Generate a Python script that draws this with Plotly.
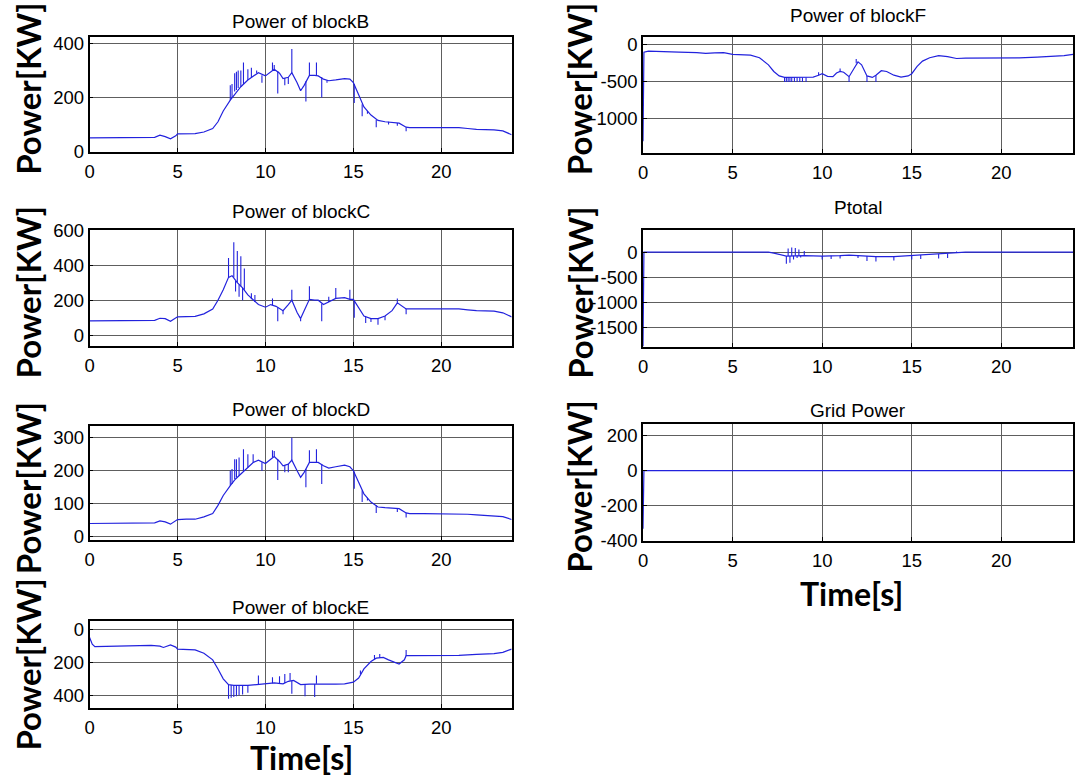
import plotly.graph_objects as go

# ---------------- DATA ----------------
x_ticks = [0, 5, 10, 15, 20]

# Power of blockB
t_B = [0, 1, 2, 3, 3.7, 4.0, 4.3, 4.6, 4.9, 5.0, 5.5, 6.0, 6.5, 7.0, 7.3, 7.6, 8.0, 8.3, 8.6, 9.0, 9.3, 9.6,
       10.0, 10.3, 10.5, 10.8, 11.0, 11.3, 11.5, 11.8, 12.0, 12.2, 12.5, 12.8, 13.0, 13.3, 13.6, 14.0, 14.5,
       14.8, 15.0, 15.3, 15.6, 16.0, 16.4, 16.8, 17.2, 17.6, 18.0, 18.2, 19, 20, 21, 21.5, 22, 23, 23.5, 24]
p_B = [50, 50, 50, 50, 52, 60, 55, 47, 58, 65, 65, 66, 72, 85, 110, 150, 190, 215, 240, 265, 280, 292,
       280, 295, 305, 290, 270, 275, 292, 255, 225, 245, 282, 282, 280, 268, 262, 265, 270,
       268, 255, 210, 165, 135, 115, 110, 108, 105, 90, 88, 88, 88, 88, 85, 82, 80, 76, 62]
spk_t_B = [8.0, 8.1, 8.25, 8.35, 8.45, 8.6, 8.75, 9.0, 9.2, 9.5, 9.8, 10.4, 10.5, 10.7, 11.1, 11.3, 11.5,
           12.3, 12.5, 12.9, 13.2, 13.5, 15.05, 15.5, 15.8, 16.3, 17.0, 17.5, 18.0]
spk_lo_B = [190, 198, 222, 228, 235, 240, 250, 265, 275, 290, 282, 300, 305, 298, 272, 275, 292,
            260, 282, 282, 276, 264, 250, 175, 150, 117, 110, 105, 90]
spk_hi_B = [245, 250, 290, 295, 300, 300, 330, 305, 310, 300, 255, 330, 320, 215, 245, 250, 380,
            185, 330, 330, 200, 255, 180, 130, 140, 90, 100, 95, 75]

# Power of blockC
t_C = [0, 1, 2, 3, 3.7, 4.0, 4.3, 4.6, 4.9, 5.0, 5.5, 6.0, 6.5, 7.0, 7.3, 7.6, 7.9, 8.1, 8.4, 8.7, 9.0, 9.3,
       9.6, 10.0, 10.3, 10.6, 11.0, 11.3, 11.5, 11.8, 12.0, 12.2, 12.5, 12.8, 13.0, 13.3, 13.6, 14.0, 14.5,
       14.8, 15.0, 15.3, 15.6, 16.0, 16.4, 16.8, 17.2, 17.5, 17.8, 18.0, 18.2, 19, 20, 21, 21.5, 22, 23, 23.5, 24]
p_C = [82, 82, 82, 82, 85, 97, 95, 80, 98, 105, 106, 108, 122, 150, 200, 260, 330, 340, 300, 270, 230, 200,
       175, 160, 175, 165, 140, 175, 200, 130, 95, 140, 205, 200, 200, 175, 190, 210, 215,
       205, 205, 160, 110, 95, 95, 110, 140, 185, 165, 150, 150, 150, 150, 150, 145, 140, 138, 128, 105]
spk_t_C = [7.9, 8.2, 8.3, 8.4, 8.5, 8.6, 8.7, 8.8, 9.2, 9.4, 10.4, 10.7, 11.0, 11.5, 12.0, 12.5, 13.2,
           13.6, 14.0, 14.8, 15.05, 15.7, 16.0, 16.4, 16.8, 17.5, 18.0]
spk_lo_C = [330, 330, 310, 300, 290, 280, 270, 260, 205, 190, 172, 160, 140, 200, 95, 205, 180,
            190, 210, 205, 200, 105, 95, 95, 110, 185, 150]
spk_hi_C = [440, 530, 250, 480, 220, 450, 200, 380, 240, 230, 210, 80, 120, 260, 80, 280, 80,
            220, 270, 260, 100, 70, 75, 60, 85, 210, 120]

# Power of blockD
t_D = t_B
p_D = [40, 40, 40, 40, 42, 48, 45, 38, 48, 52, 53, 53, 60, 70, 95, 125, 155, 175, 190, 210, 225, 232,
       222, 235, 243, 228, 215, 220, 232, 200, 180, 195, 225, 225, 225, 215, 208, 212, 217,
       212, 200, 165, 130, 105, 90, 88, 87, 85, 72, 70, 70, 70, 70, 68, 66, 64, 61, 52]
spk_t_D = [8.0, 8.1, 8.25, 8.35, 8.5, 8.75, 9.0, 9.3, 9.8, 10.4, 10.5, 10.7, 11.1, 11.3, 11.5, 12.3,
           12.5, 12.9, 13.2, 15.05, 15.5, 15.8, 16.3, 17.5, 18.0]
spk_lo_D = [155, 160, 175, 180, 185, 200, 210, 225, 226, 240, 243, 235, 217, 220, 232,
            205, 225, 225, 220, 198, 140, 118, 95, 85, 72]
spk_hi_D = [200, 205, 235, 235, 240, 265, 250, 250, 200, 262, 260, 172, 195, 195, 300,
            150, 262, 265, 160, 145, 105, 110, 72, 75, 58]

# Power of blockE
t_E = [0, 0.15, 0.3, 1, 2, 3, 3.5, 4.0, 4.2, 4.6, 4.9, 5.0, 5.5, 6.0, 6.5, 7.0, 7.3, 7.6, 7.9, 8.2, 8.6,
       9.0, 9.5, 10.0, 10.5, 11.0, 11.3, 11.6, 12.0, 12.5, 13.0, 13.5, 14.0, 14.5, 15.0, 15.3, 15.6, 16.0,
       16.3, 16.7, 17.0, 17.4, 17.6, 17.9, 18.0, 18.2, 19, 20, 21, 22, 23, 23.5, 24]
p_E = [50, 90, 105, 103, 100, 97, 97, 102, 110, 95, 108, 120, 122, 125, 145, 185, 240, 300, 335, 340, 340,
       340, 335, 330, 325, 330, 315, 310, 335, 332, 330, 332, 332, 330, 320, 295, 240, 195,
       175, 170, 185, 205, 210, 185, 160, 160, 160, 160, 158, 152, 148, 140, 120]
spk_t_E = [7.9, 8.05, 8.2, 8.35, 8.5, 8.7, 9.0, 9.6, 10.4, 10.8, 11.1, 11.4, 11.5, 12.25, 12.8, 12.9,
           15.4, 16.2, 16.5, 18.0]
spk_lo_E = [335, 338, 340, 340, 340, 340, 340, 334, 327, 328, 325, 312, 312, 334, 331, 330,
            270, 180, 172, 160]
spk_hi_E = [420, 415, 410, 405, 400, 395, 385, 280, 290, 285, 270, 265, 390, 405, 410, 280,
            250, 155, 150, 125]

# Power of blockF
t_F = [0, 0.05, 0.3, 1, 2, 3, 3.5, 4, 4.5, 5.0, 5.5, 6.0, 6.5, 7.0, 7.3, 7.6, 7.9, 8.5, 9.0, 9.5, 9.8,
       10.0, 10.3, 10.6, 10.8, 11.0, 11.2, 11.5, 11.8, 12.0, 12.2, 12.5, 12.8, 13.0, 13.3, 13.6, 14.0,
       14.4, 14.8, 15.0, 15.3, 15.6, 16.0, 16.5, 17.0, 17.5, 18.0, 19, 20, 21, 22, 23, 23.5, 24]
p_F = [-1310, -110, -95, -105, -110, -115, -125, -120, -115, -140, -145, -150, -185, -280, -370, -430,
       -450, -450, -450, -445, -420, -400, -435, -440, -390, -370, -380, -440, -320, -240, -280, -430,
       -450, -420, -360, -370, -420, -445, -430, -400, -300, -230, -185, -155, -170, -195, -190, -190,
       -190, -185, -175, -165, -155, -140]
spk_t_F = [7.9, 8.0, 8.1, 8.2, 8.3, 8.45, 8.6, 8.75, 8.9, 9.1, 9.8, 11.0, 11.5, 11.9, 12.5, 13.0]
spk_lo_F = [-450, -450, -450, -450, -450, -450, -450, -450, -450, -450, -420, -370, -440, -260, -430, -420]
spk_hi_F = [-510, -510, -510, -510, -510, -510, -510, -510, -510, -510, -380, -330, -510, -200, -510, -510]

# Ptotal
t_P = [0, 0.05, 5, 7.0, 7.3, 7.6, 8.0, 9.0, 10.0, 11.0, 11.5, 12.0, 12.5, 13.0, 14.0, 14.5, 15.0, 16.0,
       17.0, 17.5, 18.0, 24]
p_P = [-1880, 0, 0, 0, -20, -50, -80, -70, -80, -70, -60, -70, -80, -90, -90, -80, -70, -50, -30, -15, 0, 0]
spk_t_P = [8.0, 8.1, 8.2, 8.3, 8.4, 8.5, 8.6, 8.7, 8.8, 9.0, 10.0, 10.5, 11.0, 12.0, 12.5, 13.0, 14.0,
           15.0, 15.5, 16.5, 17.0, 17.5]
spk_lo_P = [-80, -78, -77, -76, -75, -74, -73, -72, -72, -70, -80, -75, -70, -70, -80, -90, -90,
            -70, -60, -40, -30, -15]
spk_hi_P = [-230, 70, -210, 90, -150, 80, -120, 50, -110, 20, -150, -140, -130, -120, -180, -190, -170,
            -150, -140, -130, -120, 10]

# Grid Power
t_G = [0, 0.05, 24]
p_G = [-330, 0, 0]

panels = [
    # name, t, p, spike t, lo, hi, yrange, yticks, column, row
    ("Power of blockB", t_B, p_B, spk_t_B, spk_lo_B, spk_hi_B, [-3, 425], [0, 200, 400], 0, 0),
    ("Power of blockC", t_C, p_C, spk_t_C, spk_lo_C, spk_hi_C, [-62, 602], [0, 200, 400, 600], 0, 1),
    ("Power of blockD", t_D, p_D, spk_t_D, spk_lo_D, spk_hi_D, [-10, 337], [0, 100, 200, 300], 0, 2),
    ("Power of blockE", t_E, p_E, spk_t_E, spk_lo_E, spk_hi_E, [474, -48], [0, 200, 400], 0, 3),
    ("Power of blockF", t_F, p_F, spk_t_F, spk_lo_F, spk_hi_F, [-1472, 98], [0, -500, -1000], 1, 0),
    ("Ptotal", t_P, p_P, spk_t_P, spk_lo_P, spk_hi_P, [-1882, 436], [0, -500, -1000, -1500], 1, 1),
    ("Grid Power", t_G, p_G, [], [], [], [-400, 267], [-400, -200, 0, 200], 1, 2),
]

# ---------------- LAYOUT ----------------
W, H = 1075, 777
col_x = [(85, 509), (641, 1073)]
row_y = [[(27.5, 146), (225.5, 345), (426.5, 544), (627.5, 716)],
         [(27.5, 147), (226, 345.5), (424.5, 545)]]
title_y = [[11.5, 207, 410, 613], [6, 203, 411]]
ylab_y = [[81, 290, 491, 672], [81, 290, 489]]
ylab_x = [23, 577]

LINE = "#2222dd"
fig = go.Figure()
layout = dict(width=W, height=H, margin=dict(l=0, r=0, t=0, b=0),
              paper_bgcolor="white", plot_bgcolor="white", showlegend=False)
annotations = []

for i, (name, t, p, st, slo, shi, yr, yt, c, r) in enumerate(panels):
    k = "" if i == 0 else str(i + 1)
    x0, x1 = col_x[c]
    y0, y1 = row_y[c][r]
    fig.add_trace(go.Scatter(x=t, y=p, mode="lines", line=dict(color=LINE, width=1.2),
                             xaxis="x" + k, yaxis="y" + k, hoverinfo="skip"))
    sx, sy = [], []
    for tt, lo, hi in zip(st, slo, shi):
        sx += [tt, tt, None]
        sy += [lo, hi, None]
    if sx:
        fig.add_trace(go.Scatter(x=sx, y=sy, mode="lines", line=dict(color=LINE, width=1.1),
                                 xaxis="x" + k, yaxis="y" + k, hoverinfo="skip"))
    axcommon = dict(showline=True, mirror=True, linecolor="black", linewidth=1.5,
                    showgrid=True, gridcolor="#5e5e5e", gridwidth=1, zeroline=False,
                    ticks="inside", ticklen=4, tickcolor="black",
                    tickfont=dict(family="Liberation Sans, Arial", size=18.5, color="black"))
    layout["xaxis" + k] = dict(axcommon, domain=[x0 / W, x1 / W], range=[0, 24], anchor="y" + k,
                               tickvals=x_ticks, ticktext=[str(v) for v in x_ticks],
                               ticklabelstandoff=2)
    layout["yaxis" + k] = dict(axcommon, domain=[1 - y1 / H, 1 - y0 / H], range=yr, anchor="x" + k,
                               tickvals=yt, ticktext=[str(v) for v in yt], ticklabelstandoff=0)
    annotations.append(dict(text=name, xref="paper", yref="paper", x=(x0 + x1) / 2 / W,
                            y=1 - title_y[c][r] / H, xanchor="center", yanchor="middle",
                            showarrow=False,
                            font=dict(family="Liberation Sans, Arial", size=19, color="black")))
    annotations.append(dict(text="Power[KW]", xref="paper", yref="paper", x=ylab_x[c] / W,
                            y=1 - ylab_y[c][r] / H, textangle=-90, xanchor="center",
                            yanchor="middle", showarrow=False,
                            font=dict(family="Lato", size=33, color="black", weight="bold")))

annotations.append(dict(text="Time[s]", xref="paper", yref="paper", x=298 / W, y=1 - 767 / H,
                        xanchor="center", yanchor="middle", showarrow=False,
                        font=dict(family="Lato", size=32, color="black", weight="bold")))
annotations.append(dict(text="Time[s]", xref="paper", yref="paper", x=850 / W, y=1 - 599 / H,
                        xanchor="center", yanchor="middle", showarrow=False,
                        font=dict(family="Lato", size=32, color="black", weight="bold")))
layout["annotations"] = annotations
fig.update_layout(**layout)
fig.write_html("out.html")
